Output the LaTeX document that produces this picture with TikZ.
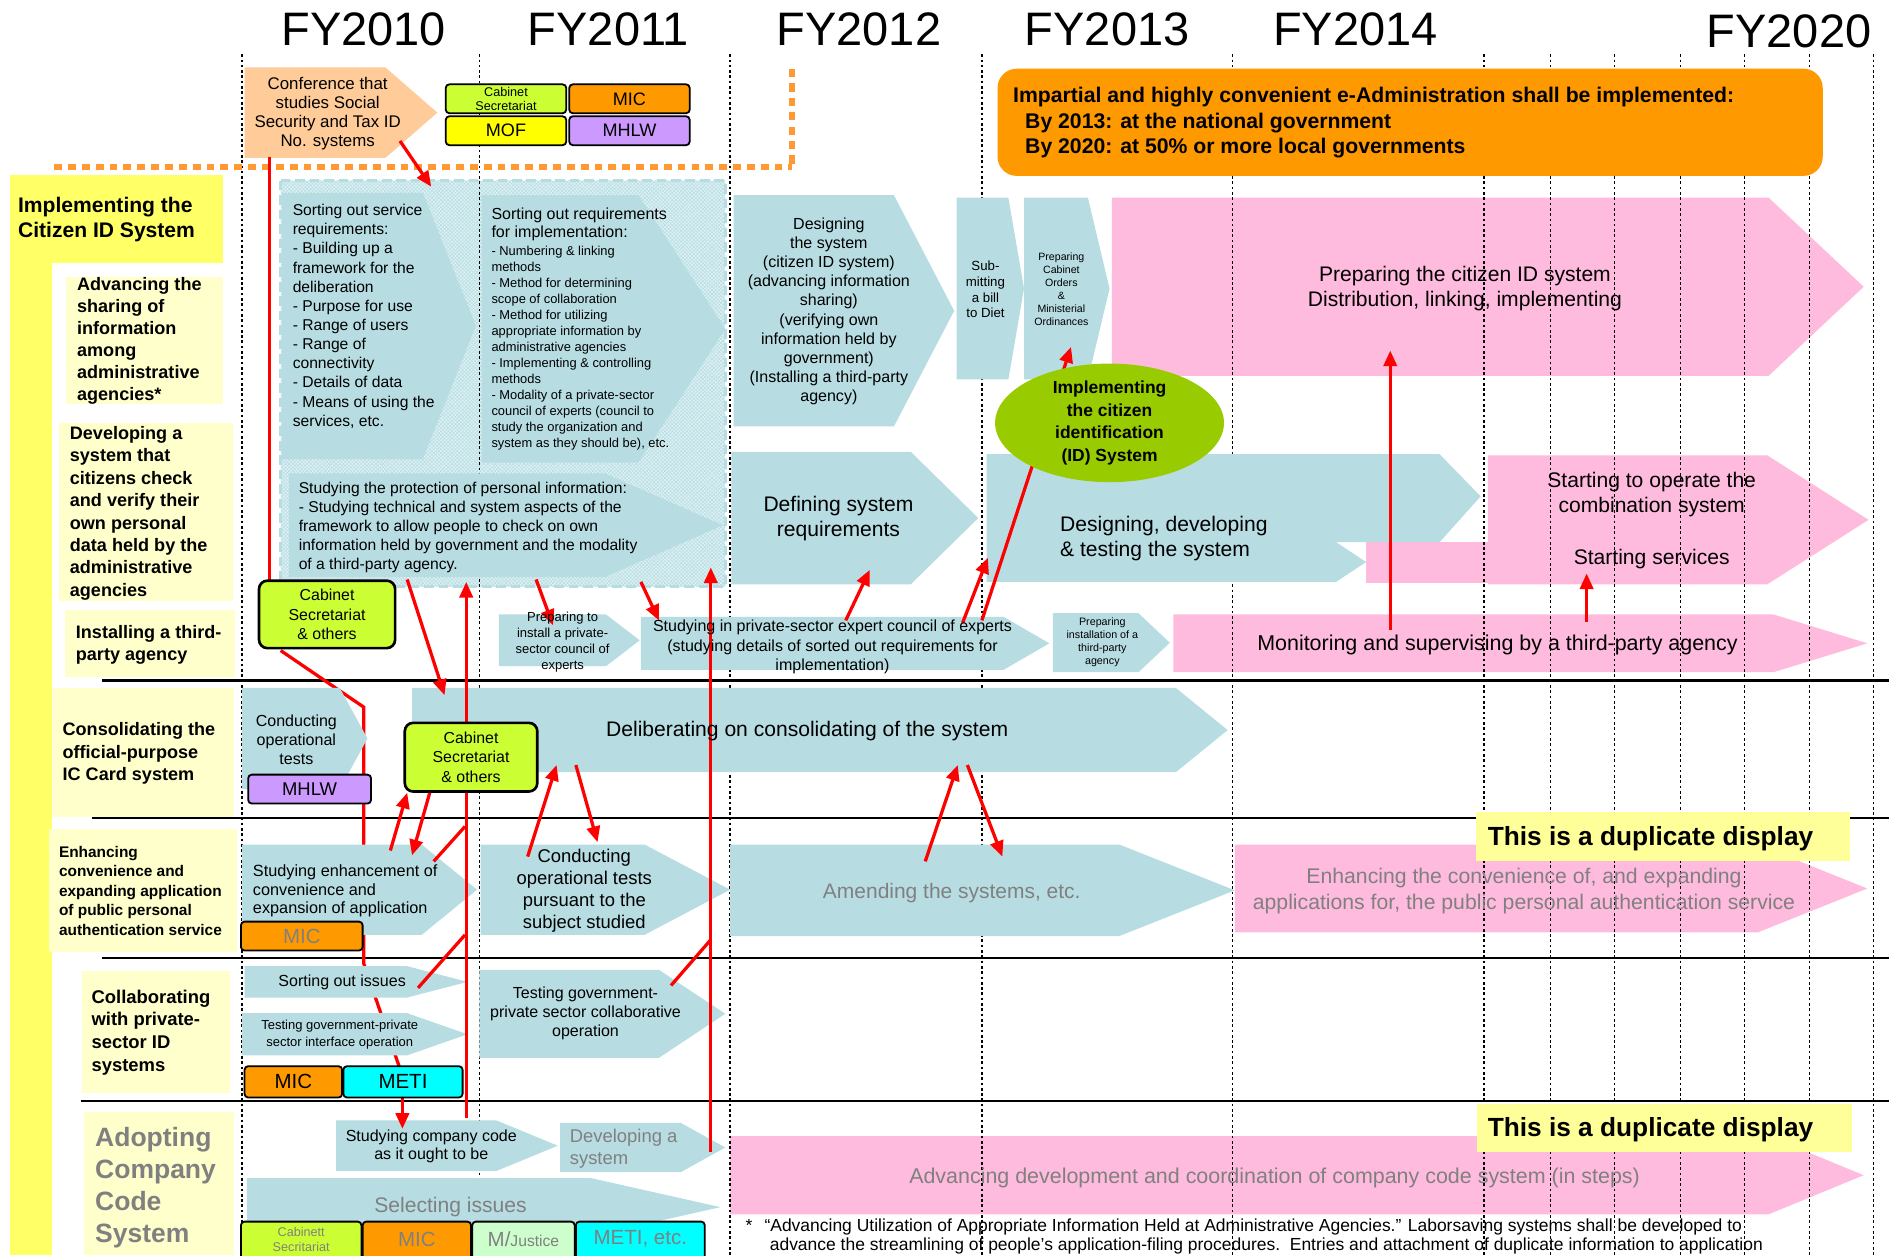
\documentclass[tikz,border=0pt]{standalone}
\usepackage{fontspec}
\setmainfont{Liberation Sans}
\usetikzlibrary{arrows.meta,patterns,shapes.geometric}
\definecolor{bl}{RGB}{183,221,227}
\definecolor{blh}{RGB}{222,241,243}
\definecolor{pk}{RGB}{255,187,221}
\definecolor{peach}{RGB}{255,204,153}
\definecolor{cgreen}{RGB}{204,255,51}
\definecolor{corange}{RGB}{255,153,0}
\definecolor{cyel}{RGB}{255,255,0}
\definecolor{cpurp}{RGB}{204,153,255}
\definecolor{ccyan}{RGB}{0,255,255}
\definecolor{lyel}{RGB}{255,255,204}
\definecolor{byel}{RGB}{255,255,102}
\definecolor{dupy}{RGB}{255,255,153}
\definecolor{egreen}{RGB}{153,204,0}
\definecolor{odot}{RGB}{255,153,51}
\definecolor{gtxt}{RGB}{128,128,128}
\definecolor{mjus}{RGB}{204,255,204}
\newcommand{\fz}[2]{\fontsize{#1pt}{#2pt}\selectfont}
\newcommand{\chev}[6]{\path[#1] (#2,#3) -- (#4,#3) -- (#5,{(#3+#6)/2}) -- (#4,#6) -- (#2,#6) -- cycle;}
\tikzset{
  every node/.style={inner sep=0pt, outer sep=0pt},
  blu/.style={fill=bl},
  pnk/.style={fill=pk},
  ag/.style={draw=black, line width=1.5pt, rounded corners=3pt},
  agb/.style={draw=black, line width=2.2pt, rounded corners=7pt, fill=cgreen},
  rarr/.style={draw=red, line width=2.7pt, -{Triangle[length=13pt,width=11pt]}},
  rln/.style={draw=red, line width=2.7pt},
  gridln/.style={draw=black, line width=1.3pt, dash pattern=on 2.2pt off 2.2pt},
  sepln/.style={draw=black, line width=2pt},
  lab/.style={fill=lyel},
}
\begin{document}
\begin{tikzpicture}[x=1pt,y=-1pt]
\useasboundingbox (0,0) rectangle (1568,1042);
\clip (0,0) rectangle (1568,1042);
\fill[white] (0,0) rectangle (1568,1042);

% ---------- pink shapes ----------
\chev{pnk}{923}{164}{1468}{1547}{312}
\path[pnk] (1134,450) rectangle (1236,484);
\chev{pnk}{1235}{378}{1467}{1551}{485}
\chev{pnk}{974}{510}{1472}{1550}{558}
\chev{pnk}{1025}{701}{1459}{1550}{774}
\chev{pnk}{606}{943}{1468}{1547}{1008}

% ---------- hatched region ----------
\path[fill=blh] (233,150) rectangle (602,487);
\path[pattern=north east lines, pattern color=bl] (233,150) rectangle (602,487);
\path[pattern=north west lines, pattern color=bl] (233,150) rectangle (602,487);
\draw[bl, line width=2.5pt, dash pattern=on 8pt off 4pt] (233,150) rectangle (602,487);

% ---------- grid lines ----------
\foreach \x in {201,398,606,815,1023,1232,1287,1340,1395,1448,1502,1555}
  \draw[gridln] (\x,45) -- (\x,1042);

% ---------- separators ----------
\draw[sepln] (85,565) -- (1568,565);
\draw[sepln] (76,679) -- (1568,679);
\draw[sepln] (85,795) -- (1568,795);
\draw[sepln] (67,914) -- (1568,914);

% ---------- orange dotted border ----------
\draw[odot, line width=5pt, dash pattern=on 6.5pt off 5pt] (45,139) -- (657,139);
\draw[odot, line width=5pt, dash pattern=on 7pt off 5pt] (657,57) -- (657,139);

% ---------- coordinates for connectors ----------
\coordinate (c3a) at (233,540); \coordinate (c3b) at (302,587);
\coordinate (c3c) at (302,800); \coordinate (c3d) at (334,893);

% hidden line from first Cabinet box down to METI
\draw[rln] (c3a) -- (c3b) -- (c3c) -- (c3d);

% ---------- blue shapes ----------
\chev{blu}{234}{160}{351}{395}{381}
\chev{blu}{400}{162}{530}{602}{384}
\chev{blu}{240}{393}{502}{600}{479}
\chev{blu}{609}{162}{742}{792}{354}
\chev{blu}{794}{164}{837}{850}{315}
\chev{blu}{850}{164}{903}{921}{315}
\chev{blu}{607}{375}{756}{812}{485}
\path[blu] (819,377) -- (1195,377) -- (1229,412) -- (1195,450) -- (1109,450) -- (1134,466.5) -- (1109,483) -- (819,483) -- cycle;
\chev{blu}{414}{510}{503}{531}{553}
\chev{blu}{532}{512}{833}{871}{556}
\chev{blu}{874}{509}{945}{971}{558}
\chev{blu}{201}{571}{282}{305}{655}
\chev{blu}{342}{571}{976}{1019}{641}
\chev{blu}{201}{701}{350}{396}{776}
\chev{blu}{399}{701}{535}{606}{776}
\chev{blu}{606}{701}{929}{1025}{777}
\chev{blu}{203}{802}{338}{388}{828}
\chev{blu}{201}{841}{338}{388}{876}
\chev{blu}{398}{805}{547}{602}{878}
\chev{blu}{279}{930}{412}{463}{972}
\chev{blu}{465}{932}{565}{602}{973}
\chev{blu}{205}{978}{491}{598}{1026}

% conference pentagon
\chev{fill=peach}{203}{56}{320}{363}{131}

% ---------- red connectors ----------
\coordinate (r1s) at (332,117); \coordinate (r1e) at (358,155);
\coordinate (r2s) at (224,130); \coordinate (r2e) at (224,482);
\coordinate (r4s) at (334,906); \coordinate (r4e) at (334,937);
\coordinate (r5s) at (338,481); \coordinate (r5e) at (369,577);
\coordinate (r6s) at (387,600); \coordinate (r6e) at (387,483);
\coordinate (r7s) at (387,657); \coordinate (r7e) at (387,928);
\coordinate (r8s) at (324,706); \coordinate (r8e) at (338,658);
\coordinate (r9s) at (357,657); \coordinate (r9e) at (342,710);
\coordinate (r10s) at (386,686); \coordinate (r10e) at (360,715);
\coordinate (r11s) at (386,776); \coordinate (r11e) at (347,820);
\coordinate (r12s) at (438,711); \coordinate (r12e) at (462,635);
\coordinate (r13s) at (478,635); \coordinate (r13e) at (496,699);
\coordinate (r14s) at (590,956); \coordinate (r14e) at (590,471);
\coordinate (r15s) at (590,780); \coordinate (r15e) at (557,818);
\coordinate (r16s) at (445,481); \coordinate (r16e) at (459,519);
\coordinate (r17s) at (532,483); \coordinate (r17e) at (547,515);
\coordinate (r18s) at (702,515); \coordinate (r18e) at (722,473);
\coordinate (r19s) at (799,517); \coordinate (r19e) at (820,463);
\coordinate (r20s) at (815,515); \coordinate (r20e) at (889,288);
\coordinate (r21s) at (1154,523); \coordinate (r21e) at (1154,291);
\coordinate (r22s) at (1317,516); \coordinate (r22e) at (1317,476);
\coordinate (r23s) at (768,715); \coordinate (r23e) at (795,635);
\coordinate (r24s) at (803,635); \coordinate (r24e) at (832,711);

\draw[rarr] (r1s) -- (r1e);
\draw[rln] (r2s) -- (r2e);
\draw[rarr] (r4s) -- (r4e);
\draw[rarr] (r5s) -- (r5e);
\draw[rarr] (r6s) -- (r6e);
\draw[rln] (r7s) -- (r7e);
\draw[rarr] (r8s) -- (r8e);
\draw[rarr] (r9s) -- (r9e);
\draw[rln] (r10s) -- (r10e);
\draw[rln] (r11s) -- (r11e);
\draw[rarr] (r12s) -- (r12e);
\draw[rarr] (r13s) -- (r13e);
\draw[rarr] (r14s) -- (r14e);
\draw[rln] (r15s) -- (r15e);
\draw[rarr] (r16s) -- (r16e);
\draw[rarr] (r17s) -- (r17e);
\draw[rarr] (r18s) -- (r18e);
\draw[rarr] (r19s) -- (r19e);
\draw[rarr] (r20s) -- (r20e);
\draw[rarr] (r21s) -- (r21e);
\draw[rarr] (r22s) -- (r22e);
\draw[rarr] (r23s) -- (r23e);
\draw[rarr] (r24s) -- (r24e);

% ---------- ellipse ----------
\node[ellipse, fill=egreen, minimum width=190pt, minimum height=86pt, align=center,
      font=\bfseries\fz{14.5}{18.7}] (idsys) at (921,351)
  {Implementing\\the citizen\\identification\\(ID) System};

% ---------- year labels ----------
\node[font=\fz{39}{45}] (fy10) at (302,24) {FY2010};
\node[font=\fz{39}{45}] (fy11) at (505,24) {FY2011};
\node[font=\fz{39}{45}] (fy12) at (713,24) {FY2012};
\node[font=\fz{39}{45}] (fy13) at (919,24) {FY2013};
\node[font=\fz{39}{45}] (fy14) at (1125,24) {FY2014};
\node[font=\fz{39}{45}] (fy20) at (1485,26) {FY2020};

% ---------- top area ----------
\node[align=center, font=\fz{14}{15.7}] (conf) at (272,94.5)
  {Conference that\\studies Social\\Security and Tax ID\\No. systems};
\node[ag, fill=cgreen, minimum width=100pt, minimum height=24pt, align=center, font=\fz{10.5}{11.5}] (cs0) at (420,82) {Cabinet\\Secretariat};
\node[ag, fill=corange, minimum width=100pt, minimum height=24pt, font=\fz{15}{17}] (mic0) at (522.5,82) {MIC};
\node[ag, fill=cyel, minimum width=100pt, minimum height=24pt, font=\fz{15}{17}] (mof0) at (420,108.5) {MOF};
\node[ag, fill=cpurp, minimum width=100pt, minimum height=24pt, font=\fz{15}{17}] (mhlw0) at (522.5,108.5) {MHLW};

\node[fill=corange, rounded corners=16pt, minimum width=685pt, minimum height=89pt] (goal) at (1170.5,101.5) {};
\node[anchor=west, align=left, font=\bfseries\fz{17.6}{21.2}] (goaltxt) at (841,102)
  {Impartial and highly convenient e-Administration shall be implemented:\\
   \hspace*{10pt}By 2013: at the national government\\
   \hspace*{10pt}By 2020: at 50\% or more local governments};

% ---------- left labels ----------
\path[fill=byel] (8,145) rectangle (43,1042);
\path[fill=byel] (8,145) rectangle (185,218);
\node[anchor=west, align=left, font=\bfseries\fz{17.5}{21}] (hdr) at (15,182.5)
  {Implementing the\\Citizen ID System};

\path[lab] (55,230) rectangle (185,335);
\node[anchor=west, align=left, font=\bfseries\fz{15}{18.4}] (lab1) at (64,283)
  {Advancing the\\sharing of\\information\\among\\administrative\\agencies*};
\path[lab] (49,351) rectangle (193,499);
\node[anchor=west, align=left, font=\bfseries\fz{15}{18.6}] (lab2) at (58,426)
  {Developing a\\system that\\citizens check\\and verify their\\own personal\\data held by the\\administrative\\agencies};
\path[lab] (54,506) rectangle (195,562);
\node[anchor=west, align=left, font=\bfseries\fz{15}{18}] (lab3) at (63,535)
  {Installing a third-\\party agency};
\path[lab] (44,571) rectangle (194,678);
\node[anchor=west, align=left, font=\bfseries\fz{15}{18.5}] (lab4) at (52,625.5)
  {Consolidating the\\official-purpose\\IC Card system};
\path[lab] (41,688) rectangle (197,790);
\node[anchor=west, align=left, font=\bfseries\fz{12.8}{16.2}] (lab5) at (49,739.5)
  {Enhancing\\convenience and\\expanding application\\of public personal\\authentication service};
\path[lab] (68,806) rectangle (191,907);
\node[anchor=west, align=left, font=\bfseries\fz{15.3}{18.7}] (lab6) at (76,857)
  {Collaborating\\with private-\\sector ID\\systems};
\path[lab] (70,923) rectangle (194,1042);
\node[anchor=west, align=left, text=gtxt, font=\bfseries\fz{22}{26.7}] (lab7) at (79,986)
  {Adopting\\Company\\Code\\System};

% ---------- texts in hatched region ----------
\node[anchor=west, align=left, font=\fz{13}{15.9}] (svc) at (243,262.5)
  {Sorting out service\\requirements:\\- Building up a\\framework for the\\deliberation\\- Purpose for use\\- Range of users\\- Range of\\connectivity\\- Details of data\\- Means of using the\\services, etc.};
\node[anchor=west, align=left, font=\fz{13.3}{15}] (req1) at (408,186.5)
  {Sorting out requirements\\for implementation:};
\node[anchor=west, align=left, font=\fz{10.7}{13.33}] (req2) at (408,289)
  {- Numbering \& linking\\methods\\- Method for determining\\scope of collaboration\\- Method for utilizing\\appropriate information by\\administrative agencies\\- Implementing \& controlling\\methods\\- Modality of a private-sector\\council of experts (council to\\study the organization and\\system as they should be), etc.};
\node[anchor=west, align=left, font=\fz{13}{15.75}] (prot) at (248,437.5)
  {Studying the protection of personal information:\\- Studying technical and system aspects of the\\framework to allow people to check on own\\information held by government and the modality\\of a third-party agency.};

% ---------- other texts ----------
\node[align=center, font=\fz{13.3}{15.9}] (desg) at (688,258.5)
  {Designing\\the system\\(citizen ID system)\\(advancing information\\sharing)\\(verifying own\\information held by\\government)\\(Installing a third-party\\agency)};
\node[align=center, font=\fz{11}{13}] (bill) at (818,240.5) {Sub-\\mitting\\a bill\\to Diet};
\node[align=center, font=\fz{8.8}{10.8}] (cabord) at (881,240)
  {Preparing\\Cabinet\\Orders\\\&\\Ministerial\\Ordinances};
\node[align=center, font=\fz{17.5}{21}] (prep) at (1216,239.5)
  {Preparing the citizen ID system\\Distribution, linking, implementing};
\node[align=center, font=\fz{17.5}{21}] (defn) at (696,430.5) {Defining system\\requirements};
\node[anchor=west, align=left, font=\fz{17.5}{20}] (ddt) at (880,447)
  {Designing, developing\\\& testing the system};
\node[align=center, font=\fz{17.5}{21}] (comb) at (1371,410.5)
  {Starting to operate the\\combination system};
\node[font=\fz{17.5}{21}] (svcs) at (1371,464) {Starting services};
\node[align=center, font=\fz{10.8}{13.3}] (pinst) at (467,533)
  {Preparing to\\install a private-\\sector council of\\experts};
\node[align=center, font=\fz{13.3}{16}] (council) at (691,537)
  {Studying in private-sector expert council of experts\\(studying details of sorted out requirements for\\implementation)};
\node[align=center, font=\fz{8.9}{10.7}] (pinst3) at (915,533)
  {Preparing\\installation of a\\third-party\\agency};
\node[font=\fz{17.8}{20}] (monit) at (1243,535)
  {Monitoring and supervising by a third-party agency};

\node[agb, minimum width=113pt, minimum height=56pt, align=center, font=\fz{13.2}{16}] (cab1) at (271.5,510)
  {Cabinet\\Secretariat\\\& others};

% row IC card
\node[align=center, font=\fz{13.3}{16}] (optest) at (246,614) {Conducting\\operational\\tests};
\node[ag, fill=cpurp, minimum width=102pt, minimum height=24pt, font=\fz{15.3}{17}] (mhlw1) at (257,655) {MHLW};
\node[font=\fz{17.5}{20}] (delib) at (670,607) {Deliberating on consolidating of the system};
\node[agb, minimum width=110pt, minimum height=57pt, align=center, font=\fz{13.2}{16}] (cab2) at (391,628.5)
  {Cabinet\\Secretariat\\\& others};

% row public auth
\node[anchor=west, align=left, font=\fz{13.5}{15.5}] (enh) at (210,739.5)
  {Studying enhancement of\\convenience and\\expansion of application};
\node[ag, fill=corange, minimum width=101pt, minimum height=24pt, text=gtxt, font=\fz{17}{19}] (mic1) at (250.5,777) {MIC};
\node[align=center, font=\fz{15.3}{18.3}] (optest2) at (485,739.5)
  {Conducting\\operational tests\\pursuant to the\\subject studied};
\node[text=gtxt, font=\fz{17.4}{20}] (amend) at (790,741) {Amending the systems, etc.};
\node[align=center, text=gtxt, font=\fz{17.6}{21}] (enhpk) at (1265,739.5)
  {Enhancing the convenience of, and expanding\\applications for, the public personal authentication service};
\node[fill=dupy, minimum width=311pt, minimum height=41pt] (dup1) at (1380.5,694.5) {};
\node[font=\bfseries\fz{21.8}{24}] (dup1t) at (1370,696) {This is a duplicate display};

% row private ID
\node[font=\fz{13.3}{15}] (sortiss) at (284,815) {Sorting out issues};
\node[align=center, font=\fz{10.8}{14}] (testif) at (282,859)
  {Testing government-private\\sector interface operation};
\node[ag, fill=corange, minimum width=81pt, minimum height=26pt, font=\fz{17}{19}] (mic2) at (243.5,898) {MIC};
\node[ag, fill=ccyan, minimum width=99pt, minimum height=26pt, font=\fz{17}{19}] (meti2) at (334.5,898) {METI};
\node[align=center, font=\fz{13.3}{16}] (testco) at (486,841)
  {Testing government-\\private sector collaborative\\operation};

% row company code
\node[align=center, font=\fz{13.3}{15.5}] (ccode) at (358,951.5)
  {Studying company code\\as it ought to be};
\node[anchor=west, align=left, text=gtxt, font=\fz{15.3}{19}] (devsys) at (473,953.5)
  {Developing a\\system};
\node[text=gtxt, font=\fz{17.5}{20}] (selis) at (374,1002) {Selecting issues};
\node[ag, fill=cgreen, minimum width=100pt, minimum height=32pt] (cab3) at (250,1030) {};
\node[align=center, text=gtxt, font=\fz{10.5}{12.5}] (cab3t) at (250,1028.5) {Cabinett\\Secritariat};
\node[ag, fill=corange, minimum width=90pt, minimum height=32pt] (mic3) at (346,1030) {};
\node[text=gtxt, font=\fz{17}{19}] (mic3t) at (346,1028.5) {MIC};
\node[ag, fill=mjus, minimum width=85pt, minimum height=32pt] (moj3) at (434.5,1030) {};
\node[text=gtxt] (moj3t) at (434.5,1028.5) {{\fz{17}{19}M/}{\fz{13}{15}Justice}};
\node[ag, fill=ccyan, minimum width=107pt, minimum height=32pt] (meti3) at (531.5,1030) {};
\node[text=gtxt, font=\fz{17}{19}] (meti3t) at (531.5,1028.5) {METI, etc.};

\node[text=gtxt, font=\fz{17.8}{20}] (advcc) at (1058,978)
  {Advancing development and coordination of company code system (in steps)};
\node[fill=dupy, minimum width=311pt, minimum height=40pt] (dup2) at (1381.5,936) {};
\node[font=\bfseries\fz{21.8}{24}] (dup2t) at (1370,938) {This is a duplicate display};

% footnote
\node[anchor=west, font=\fz{14.5}{17}] (fn1) at (619,1018.5)
  {*\hspace{10pt}“Advancing Utilization of Appropriate Information Held at Administrative Agencies.” Laborsaving systems shall be developed to};
\node[anchor=west, font=\fz{14.5}{17}] (fn2) at (639,1034.5)
  {advance the streamlining of people’s application-filing procedures.\ \ Entries and attachment of duplicate information to application};
\end{tikzpicture}
\end{document}
